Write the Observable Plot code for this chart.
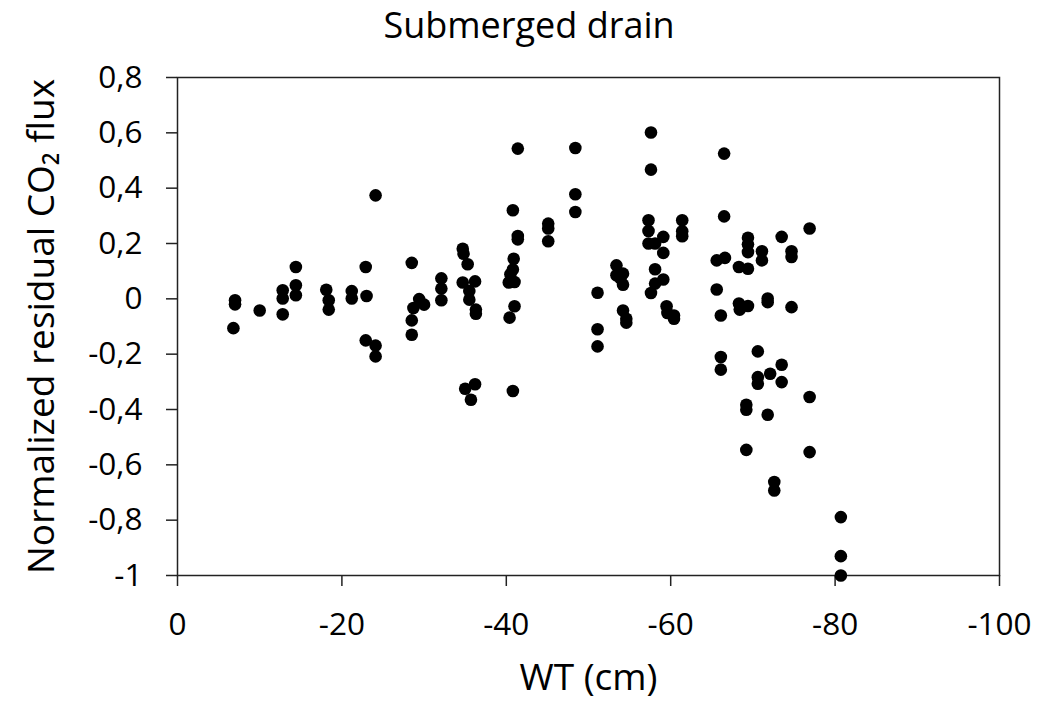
<!DOCTYPE html>
<html>
<head>
<meta charset="utf-8">
<script src="https://cdn.jsdelivr.net/npm/d3@7"></script>
<script src="https://cdn.jsdelivr.net/npm/@observablehq/plot@0.6"></script>
<style>
  html, body { margin: 0; padding: 0; background: #fff; }
  #wrap { position: relative; width: 1041px; height: 703px; overflow: hidden; font-family: "Open Sans", sans-serif; }
  #title { position: relative; height: 60px; }
  #title span { position: absolute; left: 0; width: 1058px; top: 7px; line-height: 36px; text-align: center; font-size: 36px; color: #000; }
</style>
</head>
<body>
<div id="wrap">
  <div id="title"><span>Submerged drain</span></div>
  <div id="chart"></div>
</div>
<script>
const titleText = "Submerged drain";
const xLabel = "WT (cm)";
const yLabel = "Normalized residual CO₂ flux";
const xTicks = [0, -20, -40, -60, -80, -100];
const yTicks = [-1, -0.8, -0.6, -0.4, -0.2, 0, 0.2, 0.4, 0.6, 0.8];

const wt = [
  -6.8, -7.0, -7.0, -10.0, -12.8, -12.8, -12.8, -14.4, -14.4, -14.4,
  -18.1, -18.4, -18.4, -21.2, -21.2, -22.9, -23.0, -22.9, -24.1, -24.1,
  -24.1, -28.5, -28.7, -29.4, -30.0, -28.5, -28.5, -32.1, -32.1, -32.1,
  -34.7, -34.8, -35.3, -34.7, -36.2, -35.5, -35.5, -36.3, -36.3, -35.0,
  -36.2, -35.7, -41.4, -40.8, -41.4, -41.4, -40.9, -40.8, -40.5, -41.0,
  -40.3, -41.0, -40.4, -40.8, -45.1, -45.1, -45.1, -48.4, -48.4, -48.4,
  -51.1, -51.1, -51.1, -53.4, -54.2, -53.4, -53.9, -54.2, -54.2, -54.6,
  -54.6, -57.6, -57.6, -57.3, -57.3, -57.3, -58.1, -59.1, -59.1, -58.1,
  -59.1, -58.1, -57.6, -59.5, -59.6, -60.4, -60.4, -61.4, -61.4, -61.4,
  -66.5, -66.5, -65.6, -66.6, -65.6, -66.1, -66.1, -66.1, -69.4, -69.4,
  -69.4, -68.3, -69.4, -68.3, -68.4, -69.4, -69.2, -69.2, -69.2, -71.1,
  -71.1, -70.6, -70.6, -70.6, -71.8, -71.8, -71.8, -72.1, -72.6, -72.6,
  -73.5, -73.5, -73.5, -74.7, -74.7, -74.7, -76.9, -76.9, -76.9, -80.7,
  -80.7, -80.7
];
const flux = [
  -0.106, -0.005, -0.02, -0.042, 0.031, 0.001, -0.056, 0.115, 0.049, 0.013,
  0.033, -0.005, -0.039, 0.028, 0.001, 0.115, 0.01, -0.15, -0.169, -0.208,
  0.374, 0.13, -0.033, -0.001, -0.021, -0.078, -0.13, 0.074, 0.037, -0.005,
  0.181, 0.163, 0.125, 0.059, 0.063, 0.028, -0.003, -0.039, -0.054, -0.325,
  -0.309, -0.365, 0.543, 0.32, 0.227, 0.215, 0.145, 0.106, 0.089, 0.061,
  0.059, -0.027, -0.068, -0.333, 0.272, 0.254, 0.208, 0.545, 0.378, 0.314,
  0.022, -0.11, -0.172, 0.121, 0.091, 0.085, 0.073, 0.051, -0.042, -0.072,
  -0.086, 0.601, 0.467, 0.284, 0.245, 0.2, 0.2, 0.224, 0.166, 0.107,
  0.07, 0.055, 0.021, -0.027, -0.051, -0.06, -0.072, 0.284, 0.244, 0.226,
  0.525, 0.298, 0.139, 0.148, 0.034, -0.06, -0.21, -0.256, 0.221, 0.197,
  0.169, 0.115, 0.109, -0.017, -0.039, -0.026, -0.383, -0.401, -0.546, 0.172,
  0.139, -0.19, -0.283, -0.307, 0.001, -0.012, -0.419, -0.271, -0.662, -0.693,
  0.224, -0.238, -0.301, 0.172, 0.151, -0.03, 0.254, -0.355, -0.554, -0.789,
  -0.93, -1.0
];

const data = wt.map((w, i) => ({wt: w, flux: flux[i]}));
const fmtY = d => String(+d.toFixed(1)).replace(".", ",");
const fmtX = d => String(d);

const chart = Plot.plot({
  width: 1041,
  height: 643,
  marginTop: 17,
  marginLeft: 177,
  marginRight: 42,
  marginBottom: 128,
  style: {fontFamily: "'Open Sans', sans-serif", fontSize: "31.5px", color: "#000", background: "#fff", overflow: "visible"},
  x: {domain: [0, -100], ticks: xTicks, tickFormat: fmtX, label: null},
  y: {domain: [-1, 0.8], ticks: yTicks, tickFormat: fmtY, label: null},
  marks: [
    Plot.axisX({ticks: xTicks, tickFormat: fmtX, tickSize: 11, tickPadding: 26, strokeWidth: 1.5, stroke: "#222",
      label: xLabel, labelAnchor: "center", labelOffset: 114, labelArrow: "none", fontSize: 31.5}),
    Plot.axisY({ticks: yTicks, tickFormat: fmtY, tickSize: 11, tickPadding: 24, strokeWidth: 1.5, stroke: "#222",
      label: yLabel, labelAnchor: "center", labelOffset: 150, labelArrow: "none", fontSize: 31.5}),
    Plot.frame({stroke: "#222", strokeWidth: 1.5}),
    Plot.dot(data, {x: "wt", y: "flux", r: 6.3, fill: "#000", stroke: "none"})
  ]
});
document.getElementById("chart").appendChild(chart);

// larger font for axis labels
chart.querySelectorAll("g[aria-label='x-axis label'] text, g[aria-label='y-axis label'] text").forEach(t => t.setAttribute("font-size", "37px"));
</script>
</body>
</html>
